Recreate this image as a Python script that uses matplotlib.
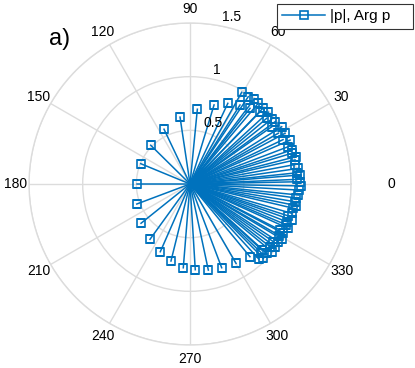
import numpy as np
import matplotlib
matplotlib.use("Agg")
import matplotlib.pyplot as plt
from matplotlib.transforms import offset_copy

plt.rcParams["font.family"] = ["Liberation Sans", "DejaVu Sans"]

# Argumento (graus) e modulo de p
arg_p = [84.4, 98.5, 115.4, 135.4, 157.6, 180.0, 200.6, 218.7, 234.1, 246.3,
         256.1, 265.4, 273.5, 282.0, 290.7, 300.1, 309.5, 73.1, 64.9, 57.7,
         51.6, 45.9, 40.6, 35.0, 29.9,
         60.6, 56.3, 52.9, 49.8, 46.1, 42.5, 38.5, 36.2, 32.0, 28.1,
         25.5, 23.7, 20.8, 18.5, 16.8, 14.5, 12.9, 10.5, 8.2, 6.0,
         4.7, 2.5, 1.2, -1.0, -3.2, -5.8, -7.5, -9.6, -11.5, -13.2,
         -16.1, -18.0, -19.5, -21.3, -23.0, -24.3, -27.1, -27.9, -30.0, -31.0,
         -33.2, -34.7, -36.4, -38.1, -39.6, -42.1, -42.6, -44.0, -45.4, -47.5]
mod_p = [0.70, 0.63, 0.565, 0.514, 0.497, 0.497, 0.53, 0.585, 0.636, 0.689,
         0.739, 0.783, 0.80, 0.82, 0.834, 0.855, 0.878, 0.77, 0.83, 0.871,
         0.90, 0.938, 0.941, 0.93, 0.949,
         0.981, 0.978, 0.993, 0.985, 0.986, 0.99, 0.97, 0.982, 1.007, 1.004,
         0.96, 1.018, 0.98, 1.0, 0.99, 1.02, 1.004, 0.99, 1.02, 1.0,
         1.029, 1.0, 1.025, 1.03, 1.017, 1.015, 1.0, 0.992, 1.01, 0.989,
         0.986, 0.96, 1.005, 0.967, 0.97, 1.005, 0.942, 0.983, 0.96, 1.0,
         0.983, 0.944, 0.985, 0.947, 0.989, 0.963, 0.908, 0.92, 0.973, 0.95]

rticks = [0.5, 1, 1.5]
theta_ticks = list(range(0, 360, 30))

azul = "#0072BD"
cinza = "#dcdcdc"

fig = plt.figure(figsize=(4.15, 3.68), dpi=100)
ax = fig.add_axes([0.0699, 0.0625, 0.776, 0.875], projection="polar")

th = np.deg2rad(arg_p)
for t, r in zip(th, mod_p):
    ax.plot([0, t], [0, r], color=azul, lw=1.1, zorder=3)
ax.plot(th, mod_p, ls="none", marker="s", ms=5.5, mfc="none", mec=azul,
        mew=1.2, zorder=4)

ax.set_ylim(0, 1.5)
ax.set_yticks(rticks)
ax.set_yticklabels([])
ax.set_xticks(np.deg2rad(theta_ticks))
ax.set_xticklabels([])
ax.grid(True, color=cinza, lw=1.0)
ax.spines["polar"].set_color(cinza)
ax.spines["polar"].set_linewidth(1.0)
ax.tick_params(length=0)

# rotulos angulares
for a in theta_ticks:
    dist = 1.88 if a == 0 else 1.63
    ax.text(np.deg2rad(a), dist, str(a), ha="center", va="center",
            fontsize=10, clip_on=False)

# rotulos radiais
trans = offset_copy(ax.transData, fig=fig, x=3, y=1, units="points")
for r in rticks:
    ax.text(np.deg2rad(80), r, str(r), ha="left", va="bottom",
            fontsize=10, transform=trans, clip_on=False)

fig.text(60 / 415, 1 - 39 / 368, "a)", fontsize=17, ha="center",
         va="center")

h, = ax.plot([], [], color=azul, lw=1.1, marker="s", ms=5.5, mfc="none",
             mec=azul, mew=1.2)
leg = fig.legend([h], ["|p|, Arg p"], loc="upper left", mode="expand",
                 bbox_to_anchor=(277 / 415, 1 - 30 / 368, 136 / 415, 26 / 368),
                 fontsize=11, fancybox=False, framealpha=1,
                 edgecolor="#333333", handlelength=2.8, borderpad=0.35,
                 handletextpad=0.3, borderaxespad=0)
leg.get_frame().set_linewidth(0.8)

fig.savefig("out.png", dpi=100)
